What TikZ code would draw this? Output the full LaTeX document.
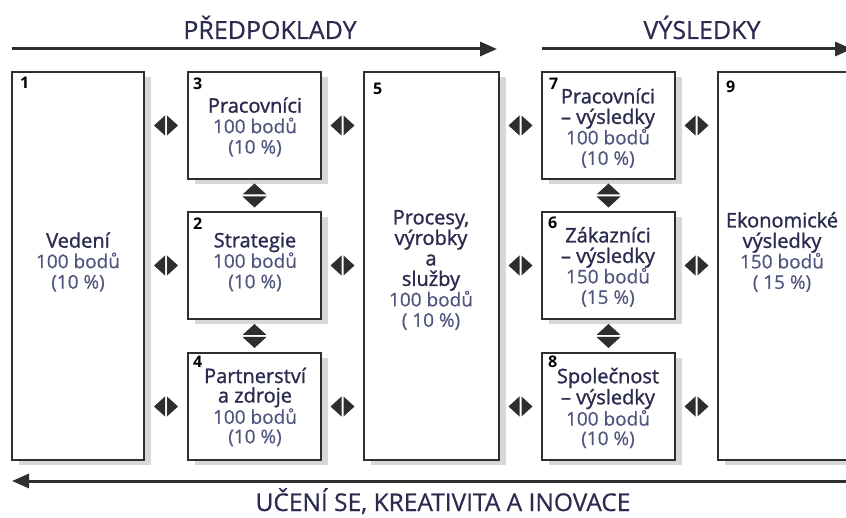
\documentclass[tikz,border=0pt]{standalone}
\usepackage{fontspec}
\setmainfont{Open Sans}
\newfontfamily\semifont{Open Sans}[FakeBold=1.3]
\newfontfamily\medfont{Open Sans}[FakeBold=0.5]
\usetikzlibrary{arrows.meta,shadows,calc}
\definecolor{ink}{HTML}{2E2E2E}
\definecolor{ttl}{HTML}{2B2B50}
\definecolor{pts}{HTML}{50557E}
\definecolor{shd}{HTML}{D8D8D8}
\newcommand{\pt}[1]{{\medfont\fontsize{19}{20.5}\selectfont\textcolor{pts}{#1}}}
\begin{document}
\begin{tikzpicture}[x=1pt,y=-1pt,
  box/.style={draw=ink, line width=1.4pt, fill=white, inner sep=0pt, outer sep=0pt, anchor=north west,
    drop shadow={shadow xshift=7pt, shadow yshift=-5pt, fill=shd, opacity=1}},
  txt/.style={align=center, font=\semifont\fontsize{20}{20.5}\selectfont, text=ttl, inner sep=0pt},
  tight/.style={font=\semifont\fontsize{20}{19.5}\selectfont},
  num/.style={font=\bfseries\fontsize{16}{16}\selectfont, text=black, anchor=north west, inner sep=0pt},
  head/.style={font=\medfont\fontsize{25}{25}\selectfont, text=ttl, inner sep=0pt, anchor=base},
  flow/.style={draw=ink, line width=3pt, -{Triangle[length=17pt,width=14pt]}},
  harr/.pic={\fill[ink] (-12,0) -- (-1,-10) -- (-1,10) -- cycle; \fill[ink] (12,0) -- (1,-10) -- (1,10) -- cycle;},
  varr/.pic={\fill[ink] (0,-12) -- (-12,-1) -- (12,-1) -- cycle; \fill[ink] (0,12) -- (-12,1) -- (12,1) -- cycle;}
]
\clip (0,0) rectangle (846,518);
\fill[white] (0,0) rectangle (846,518);

% headings and flow arrows
\node[head] (hpred) at (270,39) {PŘEDPOKLADY};
\node[head] (hvys) at (702,39) {VÝSLEDKY};
\node[head, font=\medfont\fontsize{24.5}{24.5}\selectfont] (hlearn) at (443,511) {UČENÍ SE, KREATIVITA A INOVACE};
\coordinate (p1s) at (12,49); \coordinate (p1e) at (497,49);
\coordinate (p2s) at (542,49); \coordinate (p2e) at (852,49);
\coordinate (p3s) at (860,481); \coordinate (p3e) at (12,481);
\draw[flow] (p1s) -- (p1e);
\draw[flow] (p2s) -- (p2e);
\draw[flow] (p3s) -- (p3e);

% boxes
\node[box, minimum width=132pt, minimum height=388pt] (b1) at (12,72) {};
\node[box, minimum width=133pt, minimum height=107pt] (b3) at (188,72) {};
\node[box, minimum width=133pt, minimum height=107pt] (b2) at (188,212) {};
\node[box, minimum width=133pt, minimum height=107pt] (b4) at (188,353) {};
\node[box, minimum width=135pt, minimum height=388pt] (b5) at (364,72) {};
\node[box, minimum width=133pt, minimum height=107pt] (b7) at (542,72) {};
\node[box, minimum width=133pt, minimum height=107pt] (b6) at (542,212) {};
\node[box, minimum width=133pt, minimum height=107pt] (b8) at (542,353) {};
\node[box, minimum width=140pt, minimum height=388pt] (b9) at (718,72) {};

% numbers
\node[num] (n1) at ($(b1.north west)+(8,5)$) {1};
\node[num] (n3) at ($(b3.north west)+(5,6)$) {3};
\node[num] (n2) at ($(b2.north west)+(5,6)$) {2};
\node[num] (n4) at ($(b4.north west)+(5,3)$) {4};
\node[num] (n5) at ($(b5.north west)+(9,11)$) {5};
\node[num] (n7) at ($(b7.north west)+(7,6)$) {7};
\node[num] (n6) at ($(b6.north west)+(6,5)$) {6};
\node[num] (n8) at ($(b8.north west)+(6,3)$) {8};
\node[num] (n9) at ($(b9.north west)+(8,9)$) {9};

% texts
\node[txt] (t1) at (78,262) {Vedení\\\pt{100 bodů}\\\pt{(10 \%)}};
\node[txt] (t3) at (255,127) {Pracovníci\\\pt{100 bodů}\\\pt{(10 \%)}};
\node[txt] (t2) at (255,262) {Strategie\\\pt{100 bodů}\\\pt{(10 \%)}};
\node[txt,tight] (t4) at (255,407) {Partnerství\\a zdroje\\\pt{100 bodů}\\\pt{(10 \%)}};
\node[txt] (t5) at (431,270) {Procesy,\\výrobky\\a\\služby\\\pt{100 bodů}\\\pt{( 10 \%)}};
\node[txt] (t7) at (608,128) {Pracovníci\\– výsledky\\\pt{100 bodů}\\\pt{(10 \%)}};
\node[txt] (t6) at (608,267) {Zákazníci\\– výsledky\\\pt{150 bodů}\\\pt{(15 \%)}};
\node[txt,tight] (t8) at (608,408) {Společnost\\– výsledky\\\pt{100 bodů}\\\pt{(10 \%)}};
\node[txt] (t9) at (782,252) {Ekonomické\\výsledky\\\pt{150 bodů}\\\pt{( 15 \%)}};

% connectors (double block arrows)
\foreach \l/\r in {b1/b3, b3/b5, b5/b7, b7/b9}
  \pic at ($(\l.east|-b3.west)!0.5!(\r.west|-b3.west)$) {harr};
\foreach \l/\r in {b1/b2, b2/b5, b5/b6, b6/b9}
  \pic at ($(\l.east|-b2.west)!0.5!(\r.west|-b2.west)$) {harr};
\foreach \l/\r in {b1/b4, b4/b5, b5/b8, b8/b9}
  \pic at ($(\l.east|-b4.west)!0.5!(\r.west|-b4.west)$) {harr};
\pic at ($(b3.south)!0.5!(b2.north)$) {varr};
\pic at ($(b2.south)!0.5!(b4.north)$) {varr};
\pic at ($(b7.south)!0.5!(b6.north)$) {varr};
\pic at ($(b6.south)!0.5!(b8.north)$) {varr};
\end{tikzpicture}
\end{document}
